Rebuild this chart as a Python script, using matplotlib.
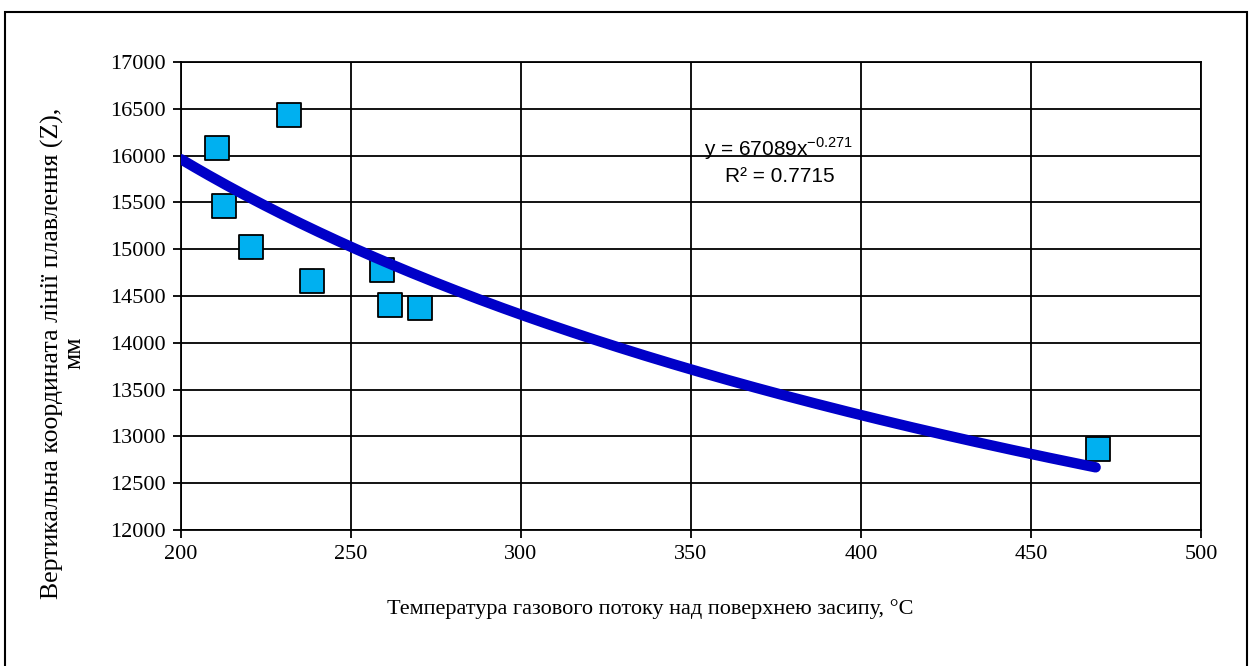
import matplotlib
matplotlib.use("Agg")
import matplotlib.pyplot as plt
from matplotlib.patches import Rectangle
import numpy as np

# Measured points: gas flow temperature vs. melting line height
temperature = [210.6, 231.8, 212.6, 220.6, 238.5, 259.1, 261.5, 270.3, 469.7]
z_coord = [16080, 16435, 15460, 15025, 14655, 14780, 14405, 14375, 12870]

# Power trend line from the chart: y = a * x^b
trend_a = 67089
trend_b = -0.271
trend_x_start = 200
trend_x_end = 469

x_ticks = [200, 250, 300, 350, 400, 450, 500]
y_ticks = [12000, 12500, 13000, 13500, 14000, 14500, 15000, 15500, 16000, 16500, 17000]

x_label = "Температура газового потоку над поверхнею засипу, °С"
y_label = "Вертикальна координата лінії плавлення (Z),\nмм"


def main():
    plt.rcParams["font.family"] = ["Liberation Serif", "DejaVu Serif"]

    fig = plt.figure(figsize=(12.52, 6.66), dpi=100)
    ax = fig.add_axes([0.1446, 0.2042, 0.8147, 0.7027])

    # Outer chart frame
    fig.patches.append(Rectangle((0.004, -0.05), 0.992, 1.032, transform=fig.transFigure,
                                 fill=False, edgecolor="black", linewidth=1.5))

    ax.scatter(temperature, z_coord, marker="s", s=320, facecolor="#00B0F0",
               edgecolor="black", linewidth=1.3, zorder=3)

    xs = np.linspace(trend_x_start, trend_x_end, 200)
    ax.plot(xs, trend_a * xs ** trend_b, color="#0000C8", linewidth=7.5,
            solid_capstyle="round", zorder=4)

    ax.set_xlim(200, 500)
    ax.set_ylim(12000, 17000)
    ax.set_xticks(x_ticks)
    ax.set_yticks(y_ticks)
    ax.grid(True, color="black", linewidth=1.3)
    ax.set_axisbelow(True)
    for sp in ax.spines.values():
        sp.set_linewidth(1.3)
    ax.tick_params(direction="out", length=6, width=1.3, labelsize=16, pad=5)

    eq_font = ["Liberation Sans"]
    ax.text(0.586, 0.815, "y = 67089x$^{\\mathregular{-0.271}}$", transform=ax.transAxes,
            ha="center", va="center", fontsize=15, family=eq_font)
    ax.text(0.587, 0.756, "R² = 0.7715", transform=ax.transAxes,
            ha="center", va="center", fontsize=15, family=eq_font)

    ax.set_xlabel(x_label, fontsize=16)
    ax.xaxis.set_label_coords(0.46, -0.148)
    ax.set_ylabel(y_label, fontsize=18.5, linespacing=0.95)
    ax.yaxis.set_label_coords(-0.094, 0.378)

    fig.savefig("out.png", dpi=100)


if __name__ == "__main__":
    main()
